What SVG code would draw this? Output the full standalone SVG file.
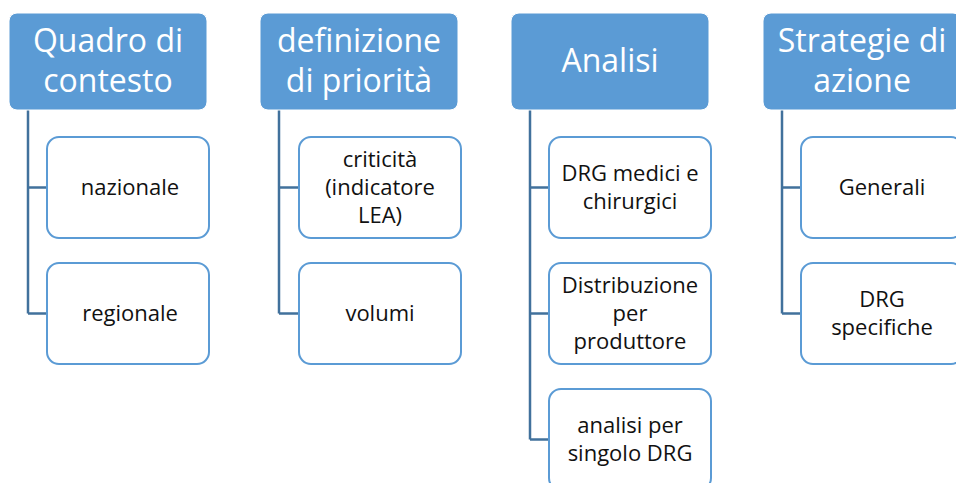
<svg xmlns="http://www.w3.org/2000/svg" width="956" height="483" viewBox="0 0 956 483">
<style>
.hd{fill:#5B9BD5;stroke:#FFFFFF;stroke-width:1}
.ch{fill:#FFFFFF;stroke:#5B9BD5;stroke-width:2}
.ht{font-family:"Open Sans",sans-serif;font-size:32px;fill:#FFFFFF;text-anchor:middle}
.ct{font-family:"Open Sans",sans-serif;font-size:22px;fill:#111111;text-anchor:middle}
.cn{fill:none;stroke:#41719C;stroke-width:2.5}
</style>
<rect width="956" height="483" fill="#FFFFFF"/>
<g id="connectors">
<path class="cn" d="M28,110 V313.5 M28,187.5 H47 M28,313.5 H47"/>
<path class="cn" d="M279,110 V313.5 M279,187.5 H299 M279,313.5 H299"/>
<path class="cn" d="M530,110 V439.5 M530,187.5 H549 M530,313.5 H549 M530,439.5 H549"/>
<path class="cn" d="M782,110 V313.5 M782,187.5 H801 M782,313.5 H801"/>
</g>
<g id="h1"><rect class="hd" x="9" y="13" width="198" height="97" rx="8"/><text class="ht" x="108" y="52">Quadro di</text><text class="ht" x="108" y="92">contesto</text></g>
<g id="h2"><rect class="hd" x="260" y="13" width="198" height="97" rx="8"/><text class="ht" x="359" y="52">definizione</text><text class="ht" x="359" y="92">di priorità</text></g>
<g id="h3"><rect class="hd" x="511" y="13" width="198" height="97" rx="8"/><text class="ht" x="610" y="72">Analisi</text></g>
<g id="h4"><rect class="hd" x="763" y="13" width="198" height="97" rx="8"/><text class="ht" x="862" y="52">Strategie di</text><text class="ht" x="862" y="92">azione</text></g>
<g id="c1a"><rect class="ch" x="47" y="137" width="162" height="101" rx="12"/><text class="ct" x="130" y="195">nazionale</text></g>
<g id="c1b"><rect class="ch" x="47" y="263" width="162" height="101" rx="12"/><text class="ct" x="130" y="321">regionale</text></g>
<g id="c2a"><rect class="ch" x="299" y="137" width="162" height="101" rx="12"/><text class="ct" x="380" y="167">criticità</text><text class="ct" x="380" y="195">(indicatore</text><text class="ct" x="380" y="223">LEA)</text></g>
<g id="c2b"><rect class="ch" x="299" y="263" width="162" height="101" rx="12"/><text class="ct" x="380" y="321">volumi</text></g>
<g id="c3a"><rect class="ch" x="549" y="137" width="162" height="101" rx="12"/><text class="ct" x="630" y="181">DRG medici e</text><text class="ct" x="630" y="209">chirurgici</text></g>
<g id="c3b"><rect class="ch" x="549" y="263" width="162" height="101" rx="12"/><text class="ct" x="630" y="293">Distribuzione</text><text class="ct" x="630" y="321">per</text><text class="ct" x="630" y="349">produttore</text></g>
<g id="c3c"><rect class="ch" x="549" y="389" width="162" height="101" rx="12"/><text class="ct" x="630" y="433">analisi per</text><text class="ct" x="630" y="461">singolo DRG</text></g>
<g id="c4a"><rect class="ch" x="801" y="137" width="162" height="101" rx="12"/><text class="ct" x="882" y="195">Generali</text></g>
<g id="c4b"><rect class="ch" x="801" y="263" width="162" height="101" rx="12"/><text class="ct" x="882" y="307">DRG</text><text class="ct" x="882" y="335">specifiche</text></g>
</svg>
